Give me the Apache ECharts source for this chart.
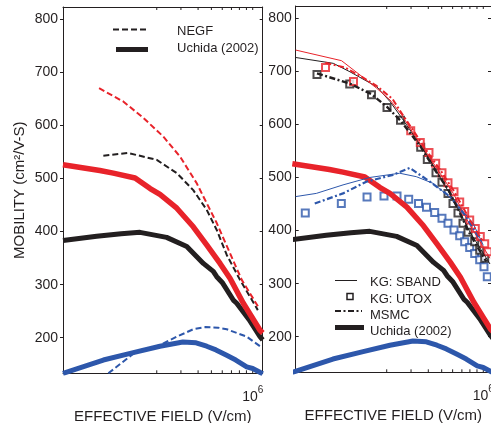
<!DOCTYPE html>
<html>
<head>
<meta charset="utf-8">
<script src="https://cdn.jsdelivr.net/npm/echarts@6/dist/echarts.min.js"></script>
<style>
html,body{margin:0;padding:0;background:#fff;}
#chart{width:491px;height:423px;}
</style>
</head>
<body>
<div id="chart"></div>
<script>
// ---------- data (field in V/cm, mobility in cm^2/V-s) ----------
const yTickValues = [200, 300, 400, 500, 600, 700, 800];
const xMinorTicks = [2e5, 3e5, 4e5, 5e5, 6e5, 7e5, 8e5, 9e5, 1e6];
const xLabelValue = 1e6;
const yRange = [133, 823];
const leftFieldRange = [41500, 1182500];
const rightFieldRange = [43900, 1137000];

// Uchida (2002) – same in both panels
const uchidaRed = [[41500,526],[77000,515],[96500,510],[139000,501],[179000,481],[211000,470],[280000,444],[369000,409],[462000,375],[578000,340],[683000,312],[854000,265],[1130000,214],[1182500,209]];
const uchidaBlack = [[41500,383],[73000,391],[110000,396],[151000,398.5],[236000,389],[331000,372],[437000,340],[516000,325],[547000,315],[604000,303],[722000,271],[765000,265],[942000,234],[1130000,202],[1182500,196]];
const uchidaBlue = [[41500,133],[81650,158],[135000,172],[211000,184],[310000,192],[387000,190.5],[462000,184],[540000,177],[646000,167],[753000,158],[904000,145],[1000000,142],[1182500,132]];

// NEGF (left panel)
const negfRed = [[76000,670],[114000,645],[160000,614],[223000,579],[296000,541],[391000,491],[437000,466],[547000,416],[684000,359],[832000,309],[1098000,258]];
const negfBlack = [[81650,543],[124000,548],[200000,535],[280000,510],[369000,478],[462000,441],[547000,403],[647000,356],[808000,309],[1090000,252]];
const negfBlue = [[88800,133],[135000,170],[211000,186],[280000,202],[369000,216],[450000,220],[560000,219],[647000,216],[904000,202],[1130000,184]];

// KG: SBAND (right panel, thin lines)
const sbandRed = [[43900,740],[94200,720],[128200,693],[169300,668],[211300,646],[256700,618],[311600,583],[389400,546],[486100,508],[606700,470],[801400,410],[1118000,348]];
const sbandBlack = [[43900,726],[82150,715],[108500,699],[169300,671],[211300,643],[263700,608],[329800,571],[411400,533],[500000,495],[606700,458],[801400,397],[1118000,337]];
const sbandBlue = [[43900,464],[61900,470],[96600,486],[150700,500],[248300,508],[327600,501.5],[432500,489],[603600,458],[842400,414],[1000000,372]];

// MSMC (right panel, dash-dot)
const msmcRed = [[72000,716],[100000,707],[135000,688],[170000,672],[220000,648],[258000,620],[312000,588],[390000,550],[500000,510],[614000,474],[800000,420],[1000000,378]];
const msmcBlack = [[62600,696],[108000,677],[155000,657],[201000,633],[252000,607],[352000,558],[455000,511],[556000,478],[657000,440],[775000,400],[942000,362],[1050000,342]];
const msmcBlue = [[60300,451],[96600,470],[142400,492],[222100,505],[293400,518],[411400,492],[574100,464],[737200,429],[967200,380]];

// KG: UTOX (right panel, squares)
const utoxRed = [[72150,707],[115000,681],[298400,588],[350000,566],[404600,547],[452400,527],[502400,509],[555400,490],[613800,473],[675000,454],[733500,436],[797300,420],[875200,404],[951300,389],[1023600,375],[1081300,360]];
const utoxBlack = [[62600,694],[108000,676],[155200,656],[201000,632],[251700,608],[352400,557],[393300,534],[454700,509],[502400,491],[555400,470],[603500,451],[656000,433],[713000,414],[775000,397],[866600,379],[941900,363],[1023600,348]];
const utoxBlue = [[51500,433],[93900,451],[144100,463],[191200,465],[237500,465],[288500,459],[339700,451],[388200,444],[444800,434],[502400,423],[555400,414],[613800,401],[675000,390],[733500,379],[797300,368],[866600,357],[941900,345],[1011800,332],[1068900,313]];

// ---------- styling ----------
const RED = '#e8232a', BLACK = '#231f20', BLUE = '#2d57ab';
const FONT = "'Liberation Sans', Arial, Helvetica, sans-serif";
const TXT = '#231f20';

const chart = echarts.init(document.getElementById('chart'), null, {renderer: 'canvas'});

function yAxisCfg(grid, pos, showLabels, inside, withName) {
  const a = {
    type: 'value', gridIndex: grid, position: pos, min: yRange[0], max: yRange[1],
    splitLine: {show: false},
    axisLine: {show: true, onZero: false, lineStyle: {color: BLACK, width: 1}},
    axisTick: {show: true, inside: inside, length: 3, customValues: yTickValues, lineStyle: {color: BLACK}},
    axisLabel: {show: showLabels, customValues: yTickValues, margin: grid === 0 ? 5 : 4, fontSize: 14, color: TXT, fontFamily: FONT}
  };
  if (withName) {
    a.name = 'MOBILITY (cm²/V-S)';
    a.nameLocation = 'middle';
    a.nameRotate = 90;
    a.nameGap = 36;
    a.nameTextStyle = {fontSize: 15, color: TXT, fontFamily: FONT};
  }
  return a;
}

function xAxisCfg(grid, range, pos) {
  const bottom = pos === 'bottom';
  return {
    type: 'log', logBase: 10, gridIndex: grid, position: pos, min: range[0], max: range[1],
    splitLine: {show: false},
    axisLine: {show: true, onZero: false, lineStyle: {color: BLACK, width: 1}},
    axisTick: {show: false},
    axisLabel: {
      show: bottom, margin: 12,
      formatter: v => Math.abs(v - xLabelValue) < 1 ? '{b|10}{s|6}' : '',
      rich: {
        b: {fontSize: 14, color: TXT, fontFamily: FONT, verticalAlign: 'bottom'},
        s: {fontSize: 10, color: TXT, fontFamily: FONT, verticalAlign: 'bottom', padding: [0, 0, 9, 0]}
      }
    },
    name: bottom ? 'EFFECTIVE FIELD (V/cm)' : '',
    nameLocation: 'middle', nameGap: 33,
    nameTextStyle: {fontSize: 15, color: TXT, fontFamily: FONT}
  };
}

function line(data, xi, color, width, type) {
  return {
    type: 'line', data: data, xAxisIndex: xi, yAxisIndex: xi,
    showSymbol: false, symbol: 'none', smooth: false, silent: true, animation: false,
    lineStyle: {color: color, width: width, type: type || 'solid', cap: 'butt', join: 'round'}
  };
}
function squares(data, color) {
  return {
    type: 'scatter', data: data, xAxisIndex: 2, yAxisIndex: 2, symbol: 'rect', symbolSize: 7,
    silent: true, animation: false,
    itemStyle: {color: '#ffffff', borderColor: color, borderWidth: 2}
  };
}
function ticks(xi) {
  return {
    type: 'custom', xAxisIndex: xi, yAxisIndex: xi, silent: true, animation: false,
    data: xMinorTicks.map(v => [v, yRange[0]]),
    encode: {x: 0, y: 1},
    renderItem: (params, api) => {
      const x = api.value(0);
      const pb = api.coord([x, yRange[0]]);
      const pt = api.coord([x, yRange[1]]);
      return {type: 'group', children: [
        {type: 'line', shape: {x1: pb[0], y1: pb[1], x2: pb[0], y2: pb[1] - 3}, style: {stroke: BLACK, lineWidth: 1}},
        {type: 'line', shape: {x1: pt[0], y1: pt[1], x2: pt[0], y2: pt[1] + 3}, style: {stroke: BLACK, lineWidth: 1}}
      ]};
    }
  };
}

const DASH = [6, 3];
const DASHDOT = [6, 2.5, 2, 2.5];

const option = {
  backgroundColor: '#ffffff',
  animation: false,
  grid: [
    {left: 63, top: 7, width: 199.7, height: 366.3, outerBoundsMode: 'none', containLabel: false},
    {left: 295.7, top: 6, width: 195.3, height: 366.3, outerBoundsMode: 'none', containLabel: false}
  ],
  xAxis: [
    xAxisCfg(0, leftFieldRange, 'bottom'),
    xAxisCfg(0, leftFieldRange, 'top'),
    xAxisCfg(1, rightFieldRange, 'bottom'),
    xAxisCfg(1, rightFieldRange, 'top')
  ],
  yAxis: [
    yAxisCfg(0, 'left', true, false, true),
    yAxisCfg(0, 'right', false, true, false),
    yAxisCfg(1, 'left', true, true, false),
    yAxisCfg(1, 'right', false, true, false)
  ],
  series: [
    ticks(0), ticks(2),
    // left panel
    line(uchidaBlue, 0, BLUE, 5),
    line(uchidaBlack, 0, BLACK, 5),
    line(uchidaRed, 0, RED, 5.5),
    line(negfBlue, 0, BLUE, 2, DASH),
    line(negfBlack, 0, BLACK, 2, DASH),
    line(negfRed, 0, RED, 2, DASH),
    // right panel
    line(uchidaBlue, 2, BLUE, 5),
    line(uchidaBlack, 2, BLACK, 5),
    line(uchidaRed, 2, RED, 5.5),
    line(sbandBlue, 2, BLUE, 1),
    line(sbandBlack, 2, BLACK, 1),
    line(sbandRed, 2, RED, 1),
    line(msmcBlue, 2, BLUE, 2.2, DASHDOT),
    line(msmcBlack, 2, BLACK, 2.4, DASHDOT),
    line(msmcRed, 2, RED, 2, DASHDOT),
    squares(utoxBlue, BLUE),
    squares(utoxBlack, BLACK),
    squares(utoxRed, RED)
  ],
  graphic: [
    // left legend
    {type: 'line', shape: {x1: 113, y1: 29.5, x2: 147, y2: 29.5}, style: {stroke: BLACK, lineWidth: 2, lineDash: DASH}},
    {type: 'line', shape: {x1: 116, y1: 49.5, x2: 148, y2: 49.5}, style: {stroke: BLACK, lineWidth: 5}},
    {type: 'text', x: 177, y: 31, style: {text: 'NEGF', fontSize: 13, fontFamily: FONT, fill: TXT, verticalAlign: 'middle'}},
    {type: 'text', x: 177, y: 48, style: {text: 'Uchida (2002)', fontSize: 13, fontFamily: FONT, fill: TXT, verticalAlign: 'middle'}},
    // right legend
    {type: 'line', shape: {x1: 335, y1: 280.5, x2: 357, y2: 280.5}, style: {stroke: BLACK, lineWidth: 1}},
    {type: 'rect', shape: {x: 347, y: 293.5, width: 6, height: 6}, style: {fill: '#fff', stroke: BLACK, lineWidth: 1.5}},
    {type: 'line', shape: {x1: 335, y1: 311, x2: 362, y2: 311}, style: {stroke: BLACK, lineWidth: 2, lineDash: DASHDOT}},
    {type: 'line', shape: {x1: 335, y1: 327.5, x2: 364, y2: 327.5}, style: {stroke: BLACK, lineWidth: 5}},
    {type: 'text', x: 370, y: 282, style: {text: 'KG: SBAND', fontSize: 13, fontFamily: FONT, fill: TXT, verticalAlign: 'middle'}},
    {type: 'text', x: 370, y: 299, style: {text: 'KG: UTOX', fontSize: 13, fontFamily: FONT, fill: TXT, verticalAlign: 'middle'}},
    {type: 'text', x: 370, y: 315, style: {text: 'MSMC', fontSize: 13, fontFamily: FONT, fill: TXT, verticalAlign: 'middle'}},
    {type: 'text', x: 370, y: 331, style: {text: 'Uchida (2002)', fontSize: 13, fontFamily: FONT, fill: TXT, verticalAlign: 'middle'}}
  ]
};
chart.setOption(option);
</script>
</body>
</html>
